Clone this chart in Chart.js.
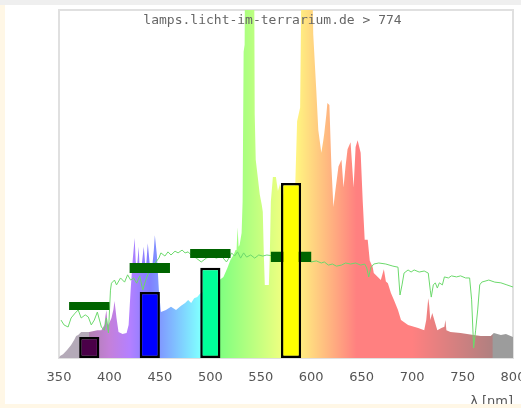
<!DOCTYPE html>
<html>
<head>
<meta charset="utf-8">
<script src="https://cdn.jsdelivr.net/npm/chart.js@4.4.0/dist/chart.umd.min.js"></script>
<style>
  html, body { margin: 0; padding: 0; width: 521px; height: 408px; overflow: hidden; background: #fff7e6; }
  #topbar { position: absolute; left: 0; top: 0; width: 521px; height: 5px; background: #efefef; }
  #panel { position: absolute; left: 5px; top: 5px; width: 516px; height: 399px; background: #fff; overflow: hidden; }
  #spectrum { position: absolute; left: 0; top: 0; }
  #caption { position: absolute; left: 0; top: 7px; width: 535px; text-align: center;
             font: 13px "DejaVu Sans Mono", monospace; line-height: 15px; color: #666; }
</style>
</head>
<body>
<div id="topbar"></div>
<div id="panel">
  <canvas id="spectrum" width="530" height="406"></canvas>
  <div id="caption">lamps.licht-im-terrarium.de &gt; 774</div>
</div>
<script>
// --- dados ---
const tickNm = [350, 400, 450, 500, 550, 600, 650, 700, 750, 800];

// espectro da lâmpada (área colorida)
const specNm = [350, 351, 354, 358, 362, 365, 367, 369, 372, 380, 388, 392, 395, 396, 397, 398, 399, 402, 404, 405,
  406, 407, 409, 413, 417, 419, 421, 423, 425, 426, 427, 429, 430, 432, 434, 436, 438, 440, 442, 444,
  445, 447, 449, 451, 456, 461, 466, 471, 475, 478, 481, 484, 487, 490, 505, 509, 513, 517, 520, 523,
  525, 526, 527, 528, 529, 531, 532, 533, 534, 535, 543, 544, 545, 547, 549, 551, 552, 553, 554, 558,
  559, 560, 562, 565, 567, 569, 575, 584, 586, 589, 591, 592, 600, 601, 602, 605, 607, 610, 612, 613,
  615, 616, 618, 620, 622, 624, 627, 630, 632, 634, 636, 639, 642, 644, 646, 649, 651, 653, 656, 658,
  661, 662, 666, 669, 671, 672, 674, 676, 679, 682, 686, 689, 696, 706, 712, 714, 716, 717, 718, 720,
  722, 725, 729, 732, 733, 734, 738, 748, 761, 768, 778, 781, 788, 793, 800];
const specVal = [0, 0.6, 1.1, 2.3, 3.7, 5.2, 6.3, 6.6, 7.5, 7.5, 8, 8, 9.5, 12, 13.8, 10, 9.5, 11.5, 14, 16.4,
  14, 11.5, 7.5, 6.9, 7.2, 9.5, 19.5, 28, 34.5, 28, 25, 32, 25, 26.7, 32, 25, 33, 26.7, 25, 31,
  35.3, 29.6, 19.5, 13.2, 13.8, 14.7, 13.8, 15, 15.8, 16.7, 15.8, 17.2, 17.5, 18.5, 21, 22.4, 23.3, 25.9, 28.2, 29.6,
  31, 31, 37.6, 32, 32.5, 35.9, 45, 88, 90, 145, 145, 70, 57, 52, 47, 44, 42, 30, 21, 21,
  30, 45, 52, 52, 48, 50, 45, 48, 68, 72, 130, 135, 135, 110, 93, 77, 65.5, 59, 62.6, 64.7,
  70, 73.3, 72.7, 55, 43.4, 48.3, 55, 57, 49, 55, 60, 62, 49, 60.6, 62.6, 59, 45.4, 34, 34, 28,
  26, 24.4, 23.3, 22.4, 24.5, 25.5, 22, 21.5, 18.7, 16.7, 13.8, 10.9, 9.5, 8.6, 8, 10.9, 17.2, 15, 10.9, 12.9,
  10.9, 8, 8.6, 9, 10.9, 8, 7.5, 7.2, 6.6, 6.3, 6.3, 7.2, 6.6, 6.9, 6];

// curva de referência (linha verde)
const refNm = [352, 355, 359, 362, 366, 369, 372, 376, 379, 382, 385, 388, 392, 395, 397, 399, 401, 402, 405, 407,
  411, 415, 418, 421, 424, 427, 430, 433, 436, 439, 442, 446, 449, 451, 455, 458, 461, 465, 468, 472,
  475, 478, 481, 486, 491, 496, 501, 506, 511, 516, 519, 521, 524, 527, 530, 533, 536, 540, 544, 548,
  552, 556, 570, 580, 592, 596, 600, 605, 610, 613, 617, 621, 625, 630, 634, 639, 644, 649, 653, 655,
  657, 659, 662, 667, 674, 681, 686, 688, 690, 692, 696, 699, 702, 707, 712, 716, 718, 719, 721, 723,
  725, 727, 730, 732, 736, 739, 744, 748, 753, 757, 759, 761, 763, 765, 767, 769, 776, 782, 788, 794, 800];
const refVal = [10.9, 9.5, 8.9, 11.5, 12.9, 13.8, 11.5, 12.4, 11.8, 9.5, 10.9, 13.2, 8.9, 8, 11.5, 7.2, 19.5, 21.5, 22.4, 21,
  23, 21.8, 23.9, 22.4, 23, 21.5, 23.6, 19.5, 22.4, 24.7, 25.9, 27.6, 28.7, 30.2, 29.3, 30.5, 29.6, 30.7, 30.2, 31,
  30.2, 30.5, 29.6, 28.7, 27.6, 28.7, 29.3, 28.7, 29.3, 27.6, 29, 30.2, 29.3, 30.5, 28.7, 30.2, 29, 29.6, 28.7, 29.6,
  29.3, 29.6, 29, 28.8, 28.7, 28.2, 27.6, 27.9, 27.3, 27.6, 26.7, 27, 26.4, 26.7, 27.3, 27, 27.3, 26.7, 27, 25.9,
  23.3, 25.9, 27, 27.3, 27, 26.4, 26.1, 18.1, 21, 24.4, 25.3, 24.7, 25.3, 24.7, 25, 24.4, 19.5, 17.5, 21, 21.6,
  20.1, 21.6, 21, 23.3, 23, 23.6, 23.3, 23.6, 23, 23, 16.7, 2.9, 8, 13.8, 21, 21.8, 22.4, 21.8, 21.6, 21, 20.4];

// barras dos canais (com contorno preto) e faixas verde-escuras
const barNm = [380, 440, 500, 580];
const barVal = [6.0, 19.0, 25.9, 50.3];
const bandLow = [13.8, 24.4, 28.7, 27.6];
const bandHigh = [16.1, 27.3, 31.3, 30.5];

// --- estilos ---
const barColors = ['#4a0048', '#0000ff', '#00ff99', '#ffff00'];
const specColors = [[350, '#b4aab8'], [379.5, '#b4aab8'], [380, '#b080b0'], [400, '#c480da'], [420, '#b480ff'],
  [440, '#8080ff'], [490, '#80ffff'], [510, '#80ff80'], [580, '#ffff80'], [645, '#ff8080'], [700, '#ff8080'],
  [779.5, '#b08080'], [780, '#9c9c9c'], [800, '#9c9c9c']];

function spectrumFill(context) {
  const chart = context.chart;
  if (!chart.chartArea) return 'rgba(0,0,0,0)';
  const xs = chart.scales.x;
  const x0 = xs.getPixelForValue(350), x1 = xs.getPixelForValue(800);
  const g = chart.ctx.createLinearGradient(x0, 0, x1, 0);
  specColors.forEach(([nm, c]) => g.addColorStop((nm - 350) / 450, c));
  return g;
}

// moldura cinza clara em volta da área do gráfico
const framePlugin = {
  id: 'frame',
  beforeDatasetsDraw(chart) {
    const { ctx, chartArea: a } = chart;
    ctx.save();
    ctx.strokeStyle = '#e0e0e0';
    ctx.lineWidth = 2;
    ctx.strokeRect(a.left, a.top, a.right - a.left, a.bottom - a.top);
    ctx.restore();
  }
};

new Chart(document.getElementById('spectrum'), {
  type: 'line',
  data: {
    datasets: [
      {
        type: 'bar',
        label: 'Kanal',
        data: barNm.map((nm, i) => ({ x: nm, y: barVal[i] })),
        backgroundColor: barColors,
        borderColor: '#000',
        borderWidth: 2.5,
        borderSkipped: false,
        grouped: false,
        categoryPercentage: 1,
        barPercentage: 0.4,
        order: 0
      },
      {
        type: 'bar',
        label: 'Band',
        data: barNm.map((nm, i) => ({ x: nm, y: [bandLow[i], bandHigh[i]] })),
        backgroundColor: '#006400',
        borderWidth: 0,
        grouped: false,
        categoryPercentage: 1,
        barPercentage: 0.8,
        order: 1
      },
      {
        label: 'Referenz',
        data: refNm.map((nm, i) => ({ x: nm, y: refVal[i] })),
        borderColor: '#6cd96c',
        borderWidth: 1,
        pointRadius: 0,
        fill: false,
        order: 2
      },
      {
        label: 'Spektrum',
        data: specNm.map((nm, i) => ({ x: nm, y: specVal[i] })),
        borderWidth: 0,
        pointRadius: 0,
        fill: 'origin',
        backgroundColor: spectrumFill,
        clip: { left: 0, top: 6, right: 0, bottom: 0 },
        order: 3
      }
    ]
  },
  options: {
    responsive: false,
    animation: false,
    layout: { padding: { left: 54, right: 22, top: 5, bottom: 2 } },
    plugins: { legend: { display: false }, tooltip: { enabled: false } },
    scales: {
      x: {
        type: 'linear',
        min: 350,
        max: 800,
        offset: false,
        afterBuildTicks: s => { s.ticks = tickNm.map(v => ({ value: v })); },
        afterFit: s => { s.paddingLeft = 0; s.paddingRight = 0; s.height = 51; },
        grid: { display: false, drawTicks: false },
        border: { display: false },
        ticks: { color: '#555', font: { family: 'DejaVu Sans', size: 13 }, padding: 12, maxRotation: 0, autoSkip: false },
        title: { display: true, text: 'λ [nm]', align: 'end', color: '#555',
                 font: { family: 'DejaVu Sans', size: 13 }, padding: 0 }
      },
      y: { display: false, min: 0, max: 100 }
    }
  },
  plugins: [framePlugin]
});
</script>
</body>
</html>
